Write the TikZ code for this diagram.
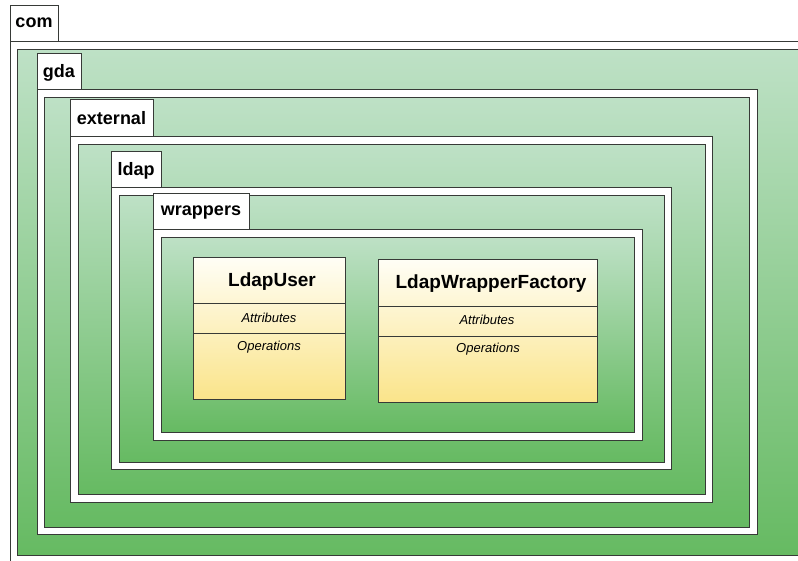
\documentclass[tikz,border=0pt]{standalone}
\usepackage{fontspec}
\setmainfont{Liberation Sans}
\definecolor{gtop}{RGB}{190,225,198}
\definecolor{gbot}{RGB}{102,186,98}
\definecolor{ctop}{RGB}{255,254,246}
\definecolor{cbot}{RGB}{250,228,138}
\definecolor{edge}{RGB}{55,58,55}
\begin{document}
\begin{tikzpicture}[x=1pt,y=-1pt,
  box/.style={anchor=north west,inner sep=0pt,outer sep=0pt,draw=edge,line width=1pt},
  pkgtab/.style={box,fill=white,text depth=0pt,font=\fontsize{18}{20}\selectfont\bfseries},
  pkgbody/.style={box,fill=white},
  pkggreen/.style={box,top color=gtop,bottom color=gbot},
  classbox/.style={box,top color=ctop,bottom color=cbot},
  cname/.style={font=\fontsize{19}{21}\selectfont\bfseries,inner sep=0pt},
  ccomp/.style={font=\fontsize{13}{15}\selectfont\itshape,inner sep=0pt},
  sep/.style={draw=edge,line width=1pt}]
\useasboundingbox (0,0) rectangle (798,560);
\clip (0,0) rectangle (798,560);
\fill[white] (0,0) rectangle (798,560);
% com
\node[pkgbody,minimum width=800pt,minimum height=530pt] (comB) at (10,41) {};
\node[pkgtab,minimum width=48pt,minimum height=36pt] (comT) at (10,5) {com};
\node[pkggreen,minimum width=790pt,minimum height=506pt] (comG) at (17,49) {};
% gda
\node[pkgbody,minimum width=720pt,minimum height=445pt] (gdaB) at (37,89) {};
\node[pkgtab,minimum width=44pt,minimum height=36pt] (gdaT) at (37,53) {gda};
\node[pkggreen,minimum width=705pt,minimum height=430pt] (gdaG) at (44,97) {};
% external
\node[pkgbody,minimum width=642pt,minimum height=366pt] (extB) at (70,136) {};
\node[pkgtab,minimum width=83pt,minimum height=37pt] (extT) at (70,99) {external};
\node[pkggreen,minimum width=627pt,minimum height=350pt] (extG) at (78,144) {};
% ldap
\node[pkgbody,minimum width=560pt,minimum height=282pt] (ldapB) at (111,187) {};
\node[pkgtab,minimum width=50pt,minimum height=36pt] (ldapT) at (111,151) {ldap};
\node[pkggreen,minimum width=545pt,minimum height=267pt] (ldapG) at (119,195) {};
% wrappers
\node[pkgbody,minimum width=489pt,minimum height=211pt] (wrB) at (153,229) {};
\node[pkgtab,minimum width=96pt,minimum height=36pt] (wrT) at (153,193) {wrappers};
\node[pkggreen,minimum width=473pt,minimum height=195pt] (wrG) at (161,237) {};
% class LdapUser
\node[classbox,minimum width=152pt,minimum height=142pt] (cu) at (193,257) {};
\draw[sep] (193,303) -- (345,303);
\draw[sep] (193,333) -- (345,333);
\node[cname] (cuN) at (272,282) {LdapUser};
\node[ccomp] (cuA) at (269,318) {Attributes};
\node[ccomp] (cuO) at (269,347) {Operations};
% class LdapWrapperFactory
\node[classbox,minimum width=219pt,minimum height=143pt] (cf) at (378,259) {};
\draw[sep] (378,306) -- (597,306);
\draw[sep] (378,336) -- (597,336);
\node[cname] (cfN) at (491,284) {LdapWrapperFactory};
\node[ccomp] (cfA) at (487,320) {Attributes};
\node[ccomp] (cfO) at (488,349) {Operations};
\end{tikzpicture}
\end{document}
